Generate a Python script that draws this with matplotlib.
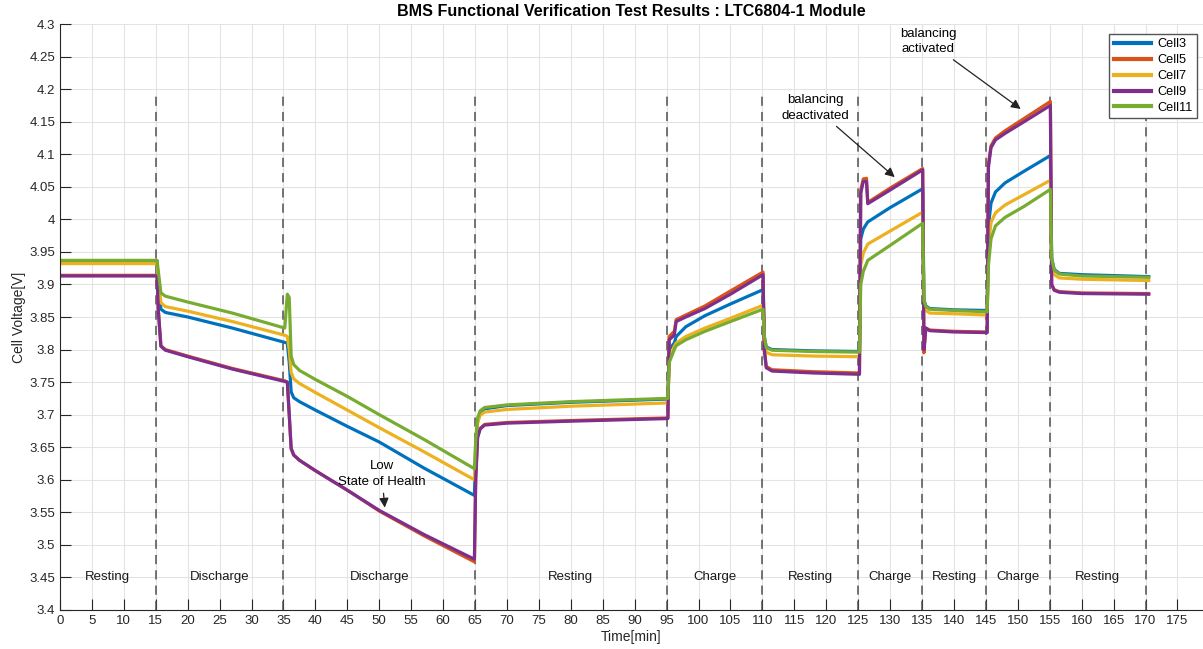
import numpy as np
import matplotlib
matplotlib.use("Agg")
import matplotlib.pyplot as plt

plt.rcParams['font.family'] = ['Liberation Sans', 'DejaVu Sans']

# sample times [min] (common to all cells)
t_min = [0, 15.2,
         15.4, 15.8, 16.5, 20, 27, 35.2,
         35.6, 35.9, 36.2, 36.6, 37.5, 40,
         45, 50, 57, 64.9,
         65.1, 65.4, 65.8, 66.5, 70, 80, 95.2,
         95.4, 96.2, 96.5, 98, 101, 105, 110.1,
         110.3, 110.6, 111.5, 118, 125.2,
         125.4, 125.8, 126.3, 126.5, 130, 135.1,
         135.3, 135.6, 136.2, 140, 145.2,
         145.4, 145.8, 146.5, 148, 151, 155.1,
         155.3, 155.7, 156.5, 160, 170.5]

# cell voltages [V]
cell3 = [3.936, 3.936,
         3.900, 3.862, 3.857, 3.850, 3.833, 3.811,
         3.810, 3.780, 3.735, 3.726, 3.720, 3.707,
         3.682, 3.658, 3.618, 3.576,
         3.640, 3.690, 3.704, 3.709, 3.714, 3.719, 3.724,
         3.800, 3.810, 3.820, 3.835, 3.852, 3.870, 3.892,
         3.820, 3.804, 3.800, 3.798, 3.797,
         3.970, 3.985, 3.993, 3.996, 4.018, 4.047,
         3.876, 3.867, 3.863, 3.861, 3.860,
         3.990, 4.025, 4.042, 4.056, 4.074, 4.098,
         3.940, 3.923, 3.917, 3.915, 3.912]
cell5 = [3.914, 3.914,
         3.860, 3.806, 3.800, 3.790, 3.771, 3.752,
         3.750, 3.700, 3.648, 3.638, 3.630, 3.614,
         3.584, 3.552, 3.514, 3.474,
         3.600, 3.666, 3.679, 3.685, 3.688, 3.691, 3.695,
         3.820, 3.828, 3.846, 3.853, 3.867, 3.890, 3.919,
         3.800, 3.774, 3.769, 3.766, 3.764,
         4.045, 4.062, 4.063, 4.026, 4.048, 4.078,
         3.795, 3.833, 3.830, 3.828, 3.827,
         4.085, 4.113, 4.125, 4.136, 4.155, 4.181,
         3.900, 3.892, 3.889, 3.887, 3.886]
cell7 = [3.932, 3.932,
         3.910, 3.872, 3.866, 3.859, 3.843, 3.822,
         3.820, 3.800, 3.765, 3.755, 3.748, 3.734,
         3.707, 3.680, 3.643, 3.600,
         3.650, 3.688, 3.699, 3.704, 3.708, 3.713, 3.718,
         3.785, 3.805, 3.810, 3.820, 3.833, 3.848, 3.868,
         3.810, 3.796, 3.792, 3.790, 3.789,
         3.930, 3.948, 3.958, 3.962, 3.982, 4.011,
         3.868, 3.860, 3.856, 3.855, 3.853,
         3.960, 3.995, 4.010, 4.022, 4.038, 4.060,
         3.930, 3.915, 3.910, 3.908, 3.906]
cell9 = [3.913, 3.913,
         3.860, 3.805, 3.799, 3.789, 3.770, 3.751,
         3.750, 3.700, 3.648, 3.638, 3.630, 3.614,
         3.584, 3.553, 3.516, 3.478,
         3.600, 3.665, 3.678, 3.684, 3.687, 3.690, 3.694,
         3.815, 3.822, 3.843, 3.850, 3.863, 3.885, 3.915,
         3.800, 3.772, 3.767, 3.764, 3.762,
         4.040, 4.058, 4.058, 4.024, 4.045, 4.076,
         3.800, 3.833, 3.829, 3.827, 3.826,
         4.080, 4.110, 4.122, 4.132, 4.150, 4.175,
         3.900, 3.891, 3.888, 3.886, 3.885]
cell11 = [3.937, 3.937,
          3.920, 3.887, 3.882, 3.873, 3.856, 3.833,
          3.885, 3.880, 3.790, 3.777, 3.768, 3.754,
          3.728, 3.700, 3.662, 3.617,
          3.660, 3.695, 3.706, 3.711, 3.715, 3.720, 3.725,
          3.780, 3.800, 3.806, 3.815, 3.828, 3.843, 3.862,
          3.820, 3.803, 3.799, 3.797, 3.796,
          3.900, 3.920, 3.932, 3.937, 3.960, 3.994,
          3.875, 3.866, 3.862, 3.860, 3.858,
          3.930, 3.970, 3.990, 4.003, 4.020, 4.046,
          3.940, 3.922, 3.916, 3.913, 3.911]

cell_names = ['Cell3', 'Cell5', 'Cell7', 'Cell9', 'Cell11']
cell_colors = ['#0072BD', '#D95319', '#EDB120', '#7E2F8E', '#77AC30']

# test phases
phase_edges = [15, 35, 65, 95, 110, 125, 135, 145, 155, 170]
phase_label_x = [7.5, 25, 50, 80, 102.5, 117.5, 130, 140, 150, 162.5]
phase_labels = ['Resting', 'Discharge', 'Discharge', 'Resting', 'Charge',
                'Resting', 'Charge', 'Resting', 'Charge', 'Resting']

fig = plt.figure(figsize=(12.03, 6.49), dpi=100)
ax = fig.add_axes([60/1203, 1-610/649, 1143/1203, 586/649])

for vals, name, col in zip([cell3, cell5, cell7, cell9, cell11], cell_names, cell_colors):
    ax.plot(t_min, vals, color=col, lw=2.3, label=name)

# phase separators
for xe in phase_edges:
    ax.plot([xe, xe], [3.4, 4.19], color='#505050', lw=1.1,
            linestyle=(0, (6, 4)), zorder=1)
for xl, lab in zip(phase_label_x, phase_labels):
    ax.text(xl, 3.45, lab, ha='center', va='center', fontsize=9.5, color='#1a1a1a')

# annotations
arrow = dict(arrowstyle='-|>', color='#222222', lw=0.9, mutation_scale=14)
ax.annotate('Low\nState of Health', xy=(50.9, 3.553), xytext=(50.4, 3.609),
            ha='center', va='center', fontsize=9.5, linespacing=1.4,
            arrowprops=arrow)
ax.annotate('balancing\ndeactivated', xy=(131.05, 4.062), xytext=(118.3, 4.171),
            ha='center', va='center', fontsize=9.5, linespacing=1.4,
            arrowprops=arrow)
ax.annotate('balancing\nactivated', xy=(150.8, 4.167), xytext=(136.0, 4.273),
            ha='center', va='center', fontsize=9.5, linespacing=1.4,
            arrowprops=arrow)

ax.set_xlim(0, 179)
ax.set_ylim(3.4, 4.3)
ax.set_xticks(np.arange(0, 176, 5))
ax.set_yticks(np.arange(3.4, 4.301, 0.05))
ax.set_yticklabels(['%g' % round(v, 2) for v in np.arange(3.4, 4.301, 0.05)])
ax.grid(True, color='#e3e3e3', lw=0.8)
ax.set_axisbelow(True)
ax.tick_params(direction='in', length=8, width=0.8, labelsize=9.5,
               colors='#262626', top=False, right=False)
for s in ['top', 'right']:
    ax.spines[s].set_visible(False)
for s in ['left', 'bottom']:
    ax.spines[s].set_color('#262626')
    ax.spines[s].set_linewidth(0.8)

ax.set_xlabel('Time[min]', fontsize=10, color='#262626', labelpad=2)
ax.set_ylabel('Cell Voltage[V]', fontsize=10, color='#262626', labelpad=2)
ax.set_title('BMS Functional Verification Test Results : LTC6804-1 Module',
             fontsize=11.6, fontweight='bold', pad=6)

leg = ax.legend(loc='upper right', bbox_to_anchor=(1197/1203, 1-34/649),
                bbox_transform=fig.transFigure, borderaxespad=0,
                fontsize=9.2, handlelength=2.9, labelspacing=0.3,
                borderpad=0.35, handletextpad=0.5,
                fancybox=False, framealpha=1, edgecolor='#555555')
for h in leg.get_lines():
    h.set_linewidth(3)

fig.savefig('out.png', dpi=100)
